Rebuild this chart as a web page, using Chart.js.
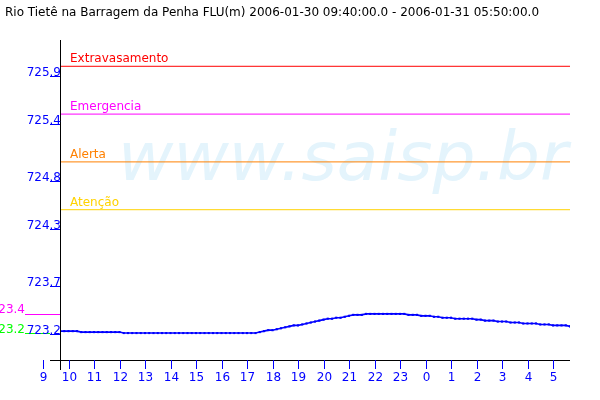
<!DOCTYPE html>
<html>
<head>
<meta charset="utf-8">
<script src="https://cdn.jsdelivr.net/npm/chart.js@4/dist/chart.umd.min.js"></script>
<style>
  html, body { margin: 0; padding: 0; background: #ffffff; }
  #wrap { width: 600px; height: 400px; }
</style>
</head>
<body>
<div id="wrap"><canvas id="c" width="600" height="400"></canvas></div>
<script>
// ---- data ----
const titleText = "Rio Tietê na Barragem da Penha FLU(m) 2006-01-30 09:40:00.0 - 2006-01-31 05:50:00.0";
const watermark = "www.saisp.br";

const times = [
  "09:40","09:50",
  "10:00","10:10","10:20","10:30","10:40","10:50",
  "11:00","11:10","11:20","11:30","11:40","11:50",
  "12:00","12:10","12:20","12:30","12:40","12:50",
  "13:00","13:10","13:20","13:30","13:40","13:50",
  "14:00","14:10","14:20","14:30","14:40","14:50",
  "15:00","15:10","15:20","15:30","15:40","15:50",
  "16:00","16:10","16:20","16:30","16:40","16:50",
  "17:00","17:10","17:20","17:30","17:40","17:50",
  "18:00","18:10","18:20","18:30","18:40","18:50",
  "19:00","19:10","19:20","19:30","19:40","19:50",
  "20:00","20:10","20:20","20:30","20:40","20:50",
  "21:00","21:10","21:20","21:30","21:40","21:50",
  "22:00","22:10","22:20","22:30","22:40","22:50",
  "23:00","23:10","23:20","23:30","23:40","23:50",
  "00:00","00:10","00:20","00:30","00:40","00:50",
  "01:00","01:10","01:20","01:30","01:40","01:50",
  "02:00","02:10","02:20","02:30","02:40","02:50",
  "03:00","03:10","03:20","03:30","03:40","03:50",
  "04:00","04:10","04:20","04:30","04:40","04:50",
  "05:00","05:10","05:20","05:30","05:40"
];

const levels = [
  723.23,723.23,
  723.23,723.23,723.23,723.22,723.22,723.22,
  723.22,723.22,723.22,723.22,723.22,723.22,
  723.22,723.21,723.21,723.21,723.21,723.21,
  723.21,723.21,723.21,723.21,723.21,723.21,
  723.21,723.21,723.21,723.21,723.21,723.21,
  723.21,723.21,723.21,723.21,723.21,723.21,
  723.21,723.21,723.21,723.21,723.21,723.21,
  723.21,723.21,723.21,723.22,723.23,723.24,
  723.24,723.25,723.26,723.27,723.28,723.29,
  723.29,723.30,723.31,723.32,723.33,723.34,
  723.35,723.36,723.36,723.37,723.37,723.38,
  723.39,723.40,723.40,723.40,723.41,723.41,
  723.41,723.41,723.41,723.41,723.41,723.41,
  723.41,723.41,723.40,723.40,723.40,723.39,
  723.39,723.39,723.38,723.38,723.37,723.37,
  723.37,723.36,723.36,723.36,723.36,723.36,
  723.35,723.35,723.34,723.34,723.34,723.33,
  723.33,723.33,723.32,723.32,723.32,723.31,
  723.31,723.31,723.31,723.30,723.30,723.30,
  723.29,723.29,723.29,723.29,723.28
];

const hourTicks = ["9","10","11","12","13","14","15","16","17","18","19","20","21","22","23","0","1","2","3","4","5"];
const yTicks = [723.2, 723.7, 724.3, 724.8, 725.4, 725.9];

const thresholdNames  = ["Extravasamento", "Emergencia", "Alerta", "Atenção"];
const thresholdValues = [726.0, 725.5, 725.0, 724.5];
const thresholdColors = ["#ff0000", "#ff00ff", "#ff8000", "#ffd200"];

const yMin = 722.928, yMax = 726.275;

// ---- helpers ----
function toHours(list) {
  const out = [];
  let dayOffset = 0, prev = -1;
  list.forEach(s => {
    const p = s.split(":");
    let v = parseInt(p[0], 10) + parseInt(p[1], 10) / 60;
    if (v + dayOffset < prev) dayOffset += 24;
    v += dayOffset;
    out.push(v);
    prev = v;
  });
  return out;
}
const xs = toHours(times);
const xMin = xs[0], xMax = xs[xs.length - 1];
const tickHours = (function () {
  const out = []; let off = 0, prev = -1;
  hourTicks.forEach(h => { let v = parseInt(h, 10) + off; if (v < prev) { off += 24; v += 24; } out.push(v); prev = v; });
  return out;
})();

const FONT = "12px 'DejaVu Sans'";
const BLUE = "#0000ff";

const datasets = thresholdValues.map((v, i) => ({
  label: thresholdNames[i],
  data: [{ x: xMin, y: v }, { x: xMax, y: v }],
  borderColor: thresholdColors[i],
  borderWidth: 1,
  pointRadius: 0,
  fill: false
}));
datasets.push({
  label: "FLU",
  data: xs.map((x, i) => ({ x: x, y: levels[i] })),
  borderColor: BLUE,
  backgroundColor: BLUE,
  borderWidth: 1.6,
  pointStyle: "rect",
  pointRadius: 1.5,
  pointBorderWidth: 0,
  pointBackgroundColor: BLUE,
  fill: false
});

const decor = {
  id: "decor",
  beforeDatasetsDraw(chart) {
    const ctx = chart.ctx;
    ctx.save();
    ctx.fillStyle = "#e4f4fc";
    let size = 70;
    ctx.font = "italic " + size + "px 'DejaVu Sans'";
    const w = ctx.measureText(watermark).width;
    size = size * 450 / w;
    ctx.font = "italic " + size + "px 'DejaVu Sans'";
    ctx.textAlign = "left";
    ctx.textBaseline = "alphabetic";
    ctx.fillText(watermark, 118, 180);
    ctx.restore();
  },
  afterDatasetsDraw(chart) {
    const ctx = chart.ctx, a = chart.chartArea;
    const xs_ = chart.scales.x, ys_ = chart.scales.y;
    ctx.save();
    ctx.font = FONT;
    ctx.textBaseline = "alphabetic";

    // title
    ctx.fillStyle = "#000000";
    ctx.textAlign = "left";
    ctx.fillText(titleText, 5, 16);

    // threshold labels
    thresholdValues.forEach((v, i) => {
      const y = ys_.getPixelForValue(v);
      ctx.fillStyle = thresholdColors[i];
      ctx.fillText(thresholdNames[i], a.left + 10, Math.round(y) - 4);
    });

    // max / min markers
    const maxV = Math.max.apply(null, levels), minV = Math.min.apply(null, levels);
    const yMaxPx = Math.round(ys_.getPixelForValue(maxV)) + 0.5;
    const yMinPx = Math.round(ys_.getPixelForValue(minV)) + 0.5;
    ctx.lineWidth = 1;
    ctx.textAlign = "right";
    ctx.strokeStyle = "#ff00ff"; ctx.fillStyle = "#ff00ff";
    ctx.beginPath(); ctx.moveTo(25, yMaxPx); ctx.lineTo(a.left, yMaxPx); ctx.stroke();
    ctx.fillText(maxV.toFixed(1), 25, yMaxPx - 2);
    ctx.strokeStyle = "#00ff00"; ctx.fillStyle = "#00ff00";
    ctx.beginPath(); ctx.moveTo(25, yMinPx); ctx.lineTo(a.left - 10, yMinPx); ctx.stroke();
    ctx.fillText(minV.toFixed(1), 25, yMinPx - 1);

    // axes lines
    ctx.strokeStyle = "#000000";
    ctx.beginPath();
    ctx.moveTo(a.left + 0.5, a.top); ctx.lineTo(a.left + 0.5, a.bottom + 10);
    ctx.moveTo(a.left - 10, a.bottom + 0.5); ctx.lineTo(a.right, a.bottom + 0.5);
    ctx.stroke();

    // y ticks
    ctx.strokeStyle = BLUE; ctx.fillStyle = BLUE;
    ctx.textAlign = "right";
    yTicks.forEach(v => {
      const y = Math.round(ys_.getPixelForValue(v)) + 0.5;
      ctx.beginPath(); ctx.moveTo(a.left - 10, y); ctx.lineTo(a.left, y); ctx.stroke();
      ctx.fillText(v.toFixed(1), a.left + 1, y - 1);
    });

    // x ticks
    ctx.textAlign = "center";
    tickHours.forEach((h, i) => {
      const x = Math.round(xs_.getPixelForValue(h)) + 0.5;
      ctx.beginPath(); ctx.moveTo(x, a.bottom); ctx.lineTo(x, a.bottom + 9); ctx.stroke();
      ctx.fillText(hourTicks[i], x, a.bottom + 21);
    });
    ctx.restore();
  }
};

new Chart(document.getElementById("c"), {
  type: "line",
  data: { datasets: datasets },
  options: {
    responsive: false,
    animation: false,
    devicePixelRatio: 1,
    layout: { padding: { left: 60, right: 30, top: 40, bottom: 40 } },
    plugins: { legend: { display: false }, tooltip: { enabled: false }, title: { display: false } },
    scales: {
      x: { type: "linear", min: xMin, max: xMax, display: false },
      y: { type: "linear", min: yMin, max: yMax, display: false }
    }
  },
  plugins: [decor]
});
</script>
</body>
</html>
